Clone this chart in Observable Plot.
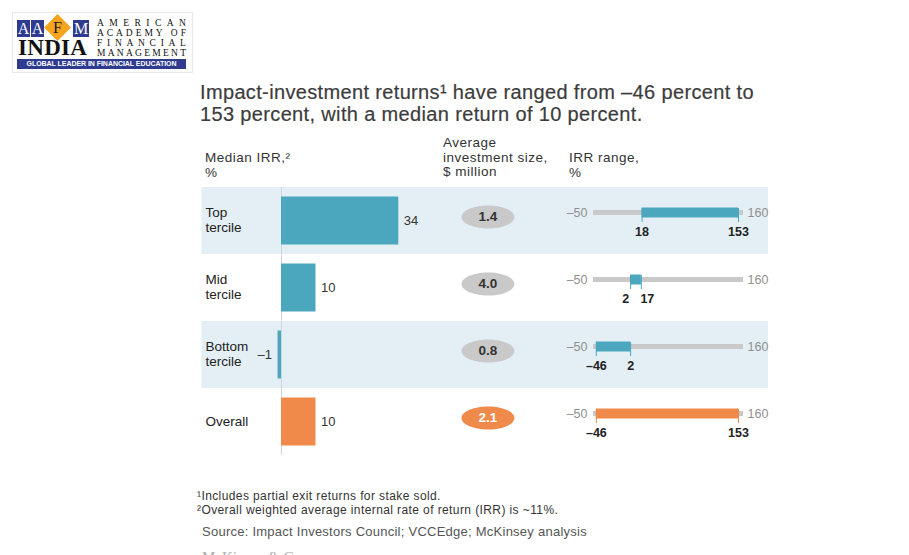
<!DOCTYPE html>
<html>
<head>
<meta charset="utf-8">
<script src="https://cdn.jsdelivr.net/npm/d3@7"></script>
<script src="https://cdn.jsdelivr.net/npm/@observablehq/plot@0.6"></script>
<style>
  html, body { margin: 0; padding: 0; background: #fff; }
  #page { position: relative; width: 909px; height: 555px; overflow: hidden; font-family: "Liberation Sans", Arial, Helvetica, sans-serif; color: #333; }
  .abs { position: absolute; white-space: nowrap; }
  #page svg.layer { position: absolute; left: 0; top: 0; }
  #logo { position: absolute; left: 12px; top: 12px; width: 179px; height: 59px; border: 1px solid #e8e8e8; background: #fff; }
  .lbox { position: absolute; top: 7px; width: 13px; height: 17px; background: #2e3b8f; color: #fff; font: 16px "Liberation Serif", "DejaVu Serif", serif; line-height: 17px; text-align: center; }
  .diamond { position: absolute; left: 35px; top: 5px; width: 19px; height: 19px; background: #f6a31e; transform: rotate(45deg); }
  .fletter { position: absolute; left: 36px; top: 6px; width: 17px; text-align: center; font: 16px "Liberation Serif", "DejaVu Serif", serif; line-height: 18px; color: #1b1b2e; }
  .india { position: absolute; left: 5px; top: 25px; font: bold 23px "Liberation Serif", "DejaVu Serif", serif; color: #111; letter-spacing: 0.3px; line-height: 20px; }
  .sline { position: absolute; left: 84px; width: 89px; display: flex; justify-content: space-between; font: 9.5px "Liberation Serif", "DejaVu Serif", serif; color: #111; line-height: 10px; }
  .gbar { position: absolute; left: 4px; top: 46px; width: 169px; height: 10px; background: #2e3b8f; color: #fff; font: bold 7px "Liberation Sans", Arial, sans-serif; line-height: 10px; text-align: center; letter-spacing: -0.05px; }
  .title { left: 200px; top: 81px; font-size: 20px; line-height: 22px; letter-spacing: 0.35px; color: #3c3c3c; -webkit-text-stroke: 0.2px #3c3c3c; }
  .hdr { font-size: 13.5px; line-height: 14.5px; letter-spacing: 0.5px; color: #333; }
  .foot { font-size: 12px; letter-spacing: 0.4px; color: #333; }
</style>
</head>
<body>
<div id="page">
  <div id="logo">
    <div class="lbox" style="left:4px">A</div>
    <div class="lbox" style="left:18px">A</div>
    <div class="diamond"></div>
    <div class="fletter">F</div>
    <div class="lbox" style="left:60px; width:16px">M</div>
    <div class="india">INDIA</div>
    <div class="sline" style="top:5px"><span>A</span><span>M</span><span>E</span><span>R</span><span>I</span><span>C</span><span>A</span><span>N</span></div>
    <div class="sline" style="top:15px"><span>A</span><span>C</span><span>A</span><span>D</span><span>E</span><span>M</span><span>Y</span><span>&nbsp;</span><span>O</span><span>F</span></div>
    <div class="sline" style="top:25px"><span>F</span><span>I</span><span>N</span><span>A</span><span>N</span><span>C</span><span>I</span><span>A</span><span>L</span></div>
    <div class="sline" style="top:35px"><span>M</span><span>A</span><span>N</span><span>A</span><span>G</span><span>E</span><span>M</span><span>E</span><span>N</span><span>T</span></div>
    <div class="gbar">GLOBAL LEADER IN FINANCIAL EDUCATION</div>
  </div>

  <div class="abs title">Impact-investment returns¹ have ranged from –46 percent to<br>153 percent, with a median return of 10 percent.</div>

  <div class="abs hdr" style="left:205px; top:151px">Median IRR,²<br>%</div>
  <div class="abs hdr" style="left:443px; top:136px">Average<br>investment size,<br>$ million</div>
  <div class="abs hdr" style="left:569px; top:151px">IRR range,<br>%</div>

  <div class="abs foot" style="left:197px; top:489px">¹Includes partial exit returns for stake sold.</div>
  <div class="abs foot" style="left:197px; top:503px">²Overall weighted average internal rate of return (IRR) is ~11%.</div>
  <div class="abs foot" style="left:202px; top:524px; font-size:13px; letter-spacing:0.25px; color:#555">Source: Impact Investors Council; VCCEdge; McKinsey analysis</div>
  <div class="abs" style="left:202px; top:549px; font: 15px 'Liberation Serif', serif; color:#aaa">McKinsey &amp; Company</div>
</div>

<script>
// ---- data ----
const rows = ["Top", "Mid", "Bottom", "Overall"];
const rowLabels = ["Top\ntercile", "Mid\ntercile", "Bottom\ntercile", "Overall"];
const kinds = ["tercile", "tercile", "tercile", "overall"];
const medianIRR = [34, 10, -1, 10];
const avgInvestmentSize = [1.4, 4.0, 0.8, 2.1];
const irrLow = [18, 2, -46, -46];
const irrHigh = [153, 17, 2, 153];
const irrScaleTicks = [-50, 160];

// ---- styles ----
const TEAL = "#4aa7be", ORANGE = "#f08a4b", GRAY = "#c9c9c9", BAND = "#e3eff4";
const FONT = "'Liberation Sans', Arial, Helvetica, sans-serif";
const fmt = v => (v < 0 ? "–" + Math.abs(v) : String(v));

const table = rows.map((r, i) => ({
  row: r, label: rowLabels[i], kind: kinds[i],
  median: medianIRR[i], size: avgInvestmentSize[i],
  low: irrLow[i], high: irrHigh[i], idx: i
}));

const W = 909, H = 555, TOP = 187, BOTTOM = 455;
const yScale = {type: "band", domain: rows, range: [TOP, BOTTOM], padding: 0, axis: null};
const base = {
  width: W, height: H,
  marginTop: TOP, marginBottom: H - BOTTOM, marginLeft: 0, marginRight: 0,
  y: yScale,
  style: {background: "transparent", fontFamily: FONT, overflow: "visible"}
};
const page = document.getElementById("page");
function add(svg) { svg.classList.add("layer"); page.appendChild(svg); }

// background bands
add(Plot.plot({
  ...base,
  x: {domain: [0, 1], range: [201.5, 768], axis: null},
  marks: [
    Plot.barX(table.filter(d => d.idx % 2 === 0), {x1: 0, x2: 1, y: "row", fill: BAND})
  ]
}));

// median IRR bars
add(Plot.plot({
  ...base,
  x: {domain: [0, 34], range: [281, 398.3], axis: null},
  color: {domain: ["tercile", "overall"], range: [TEAL, ORANGE]},
  marks: [
    Plot.ruleX([0], {stroke: "#cfd6d9", strokeWidth: 1}),
    Plot.barX(table, {x: "median", y: "row", fill: "kind", insetTop: 9.5, insetBottom: 9.5}),
    Plot.text(table.filter(d => d.median >= 0), {x: "median", y: "row", text: d => fmt(d.median), textAnchor: "start", dx: 5, fontSize: 13, fill: "#333"}),
    Plot.text(table.filter(d => d.median < 0), {x: "median", y: "row", text: d => fmt(d.median), textAnchor: "end", dx: -6, fontSize: 13, fill: "#333"}),
    Plot.text(table, {y: "row", text: "label", frameAnchor: "left", dx: 205, textAnchor: "start", lineHeight: 1.12, fontSize: 13.5, fill: "#222", dy: -1})
  ]
}));

// average investment size ellipses
const ellipse = {
  draw(ctx) {
    const rx = 26.5, ry = 11.5, k = 0.5523;
    ctx.moveTo(rx, 0);
    ctx.bezierCurveTo(rx, ry * k, rx * k, ry, 0, ry);
    ctx.bezierCurveTo(-rx * k, ry, -rx, ry * k, -rx, 0);
    ctx.bezierCurveTo(-rx, -ry * k, -rx * k, -ry, 0, -ry);
    ctx.bezierCurveTo(rx * k, -ry, rx, -ry * k, rx, 0);
    ctx.closePath();
  }
};
add(Plot.plot({
  ...base,
  marginLeft: 66,
  color: {domain: ["tercile", "overall"], range: [GRAY, ORANGE]},
  marks: [
    Plot.dot(table, {y: "row", symbol: ellipse, fill: "kind", stroke: null, dy: -4}),
    Plot.text(table, {y: "row", text: d => d.size.toFixed(1), dy: -4, fontSize: 13.5, fontWeight: "bold",
      fill: d => (d.kind === "overall" ? "#ffffff" : "#333333")})
  ]
}));

// IRR range
const narrow = d => d.high - d.low < 25;
add(Plot.plot({
  ...base,
  x: {domain: irrScaleTicks, range: [593, 743], axis: null},
  color: {domain: ["tercile", "overall"], range: [TEAL, ORANGE]},
  marks: [
    Plot.barX(table, {x1: irrScaleTicks[0], x2: irrScaleTicks[1], y: "row", fill: GRAY, insetTop: 23, insetBottom: 39}),
    Plot.tickX(table, {x: "low", y: "row", stroke: "kind", strokeWidth: 1, insetTop: 21, insetBottom: 32}),
    Plot.tickX(table, {x: "high", y: "row", stroke: "kind", strokeWidth: 1, insetTop: 21, insetBottom: 32}),
    Plot.barX(table, {x1: "low", x2: "high", y: "row", fill: "kind", insetTop: 20.5, insetBottom: 36.5}),
    Plot.text(table, {x: () => irrScaleTicks[0], y: "row", text: () => fmt(irrScaleTicks[0]), textAnchor: "end", dx: -6, dy: -8, fontSize: 12.5, fill: "#8f8f8f"}),
    Plot.text(table, {x: () => irrScaleTicks[1], y: "row", text: () => fmt(irrScaleTicks[1]), textAnchor: "start", dx: 4, dy: -8, fontSize: 12.5, fill: "#8f8f8f"}),
    Plot.text(table.filter(d => !narrow(d)), {x: "low", y: "row", text: d => fmt(d.low), dy: 11, fontSize: 12.5, fontWeight: "bold", fill: "#222"}),
    Plot.text(table.filter(d => !narrow(d)), {x: "high", y: "row", text: d => fmt(d.high), dy: 11, fontSize: 12.5, fontWeight: "bold", fill: "#222"}),
    Plot.text(table.filter(narrow), {x: "low", y: "row", text: d => fmt(d.low), dy: 11, dx: -5, fontSize: 12.5, fontWeight: "bold", fill: "#222"}),
    Plot.text(table.filter(narrow), {x: "high", y: "row", text: d => fmt(d.high), dy: 11, dx: 6, fontSize: 12.5, fontWeight: "bold", fill: "#222"})
  ]
}));
</script>
</body>
</html>
